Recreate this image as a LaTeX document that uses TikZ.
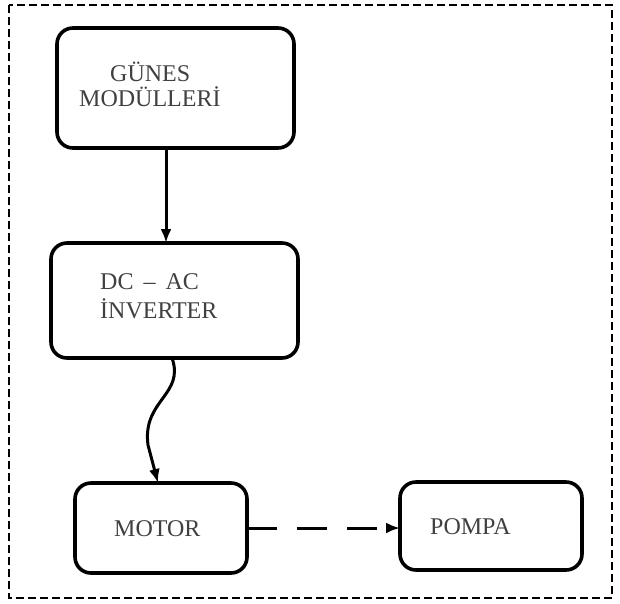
\documentclass[tikz,border=0pt]{standalone}
\usepackage{fontspec}
\setmainfont{Liberation Serif}
\usetikzlibrary{arrows.meta}
\begin{document}
\begin{tikzpicture}[x=1pt,y=-1pt,
  blk/.style={draw=black, line width=3.6pt, rounded corners=16pt},
  lbl/.style={font=\fontsize{24}{28}\selectfont, align=left, inner sep=0pt, anchor=west, text=black!75},
  tip/.style={-{Latex[length=14pt,width=11pt]}},
  conn/.style={line width=3pt, tip}]
\useasboundingbox (0,0) rectangle (620,603);
\draw[line width=2pt, dash pattern=on 8pt off 4pt] (9,5) rectangle (612,598);
% boxes
\draw[blk] (57,28) rectangle (294,148);
\draw[blk] (51,243) rectangle (298,358);
\draw[blk] (75,483) rectangle (247,573);
\draw[blk] (400,482) rectangle (582,570);
\node[lbl] (t1) at (110,72) {GÜNES};
\node[lbl] (t2) at (79,97) {MODÜLLERİ};
\node[lbl] (t3) at (100,282) {DC\, – \,AC};
\node[lbl] (t4) at (100,309) {İNVERTER};
\node[lbl] (t5) at (114,529) {MOTOR};
\node[lbl] (t6) at (430,527) {POMPA};
% named points on box edges
\coordinate (gb) at (166,148);
\coordinate (it) at (166,243);
\coordinate (ib) at (172,358);
\coordinate (mt) at (158,483);
\coordinate (mr) at (247,528);
\coordinate (pl) at (400,528);
\draw[conn] (gb) -- (it);
\draw[conn] (ib) .. controls (185,395) and (142,400) .. (148,445) -- (mt);
\draw[line width=3pt, dash pattern=on 30pt off 20pt, tip] (mr) -- (pl);
\end{tikzpicture}
\end{document}
